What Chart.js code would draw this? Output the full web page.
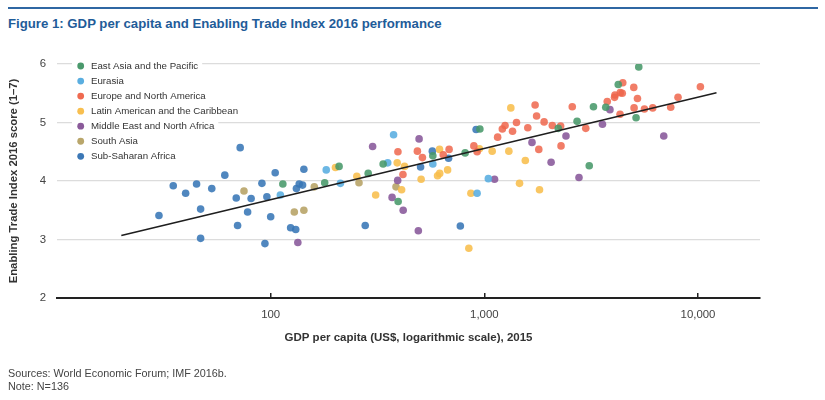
<!DOCTYPE html>
<html>
<head>
<meta charset="utf-8">
<script src="https://cdn.jsdelivr.net/npm/chart.js@4.4.0/dist/chart.umd.min.js"></script>
<style>
html,body{margin:0;padding:0;background:#fff;}
#wrap{position:relative;width:825px;height:400px;overflow:hidden;font-family:"Liberation Sans",Arial,sans-serif;}
#rule{position:absolute;left:8px;top:7px;width:810px;height:2px;background:#2f67a3;}
#title{position:absolute;left:8px;top:16px;font-size:13.2px;line-height:15px;font-weight:bold;color:#1f5c99;white-space:nowrap;}
#src{position:absolute;left:8px;top:367px;font-size:10.8px;line-height:12.7px;color:#444;white-space:nowrap;}
canvas{position:absolute;left:0;top:0;}
</style>
</head>
<body>
<div id="wrap">
  <div id="rule"></div>
  <div id="title">Figure 1: GDP per capita and Enabling Trade Index 2016 performance</div>
  <canvas id="c" width="825" height="400"></canvas>
  <div id="src">Sources: World Economic Forum; IMF 2016b.<br>Note: N=136</div>
</div>
<script>
// ---- Data (GDP per capita US$, ETI 2016 score) ----
const regions = ['East Asia and the Pacific', 'Eurasia', 'Europe and North America',
  'Latin American and the Caribbean', 'Middle East and North Africa', 'South Asia', 'Sub-Saharan Africa'];

const eapX = [114, 179, 209, 286, 336, 395, 574, 813, 953, 2218, 2716, 3097, 3241, 3700, 4233, 5129, 5280];
const eapY = [3.95, 3.97, 4.25, 4.13, 4.29, 3.65, 4.43, 4.48, 4.89, 4.90, 5.02, 4.26, 5.27, 5.26, 5.65, 5.08, 5.95];

const eurX = [111, 182, 212, 353, 376, 574, 925, 1044];
const eurY = [3.76, 4.19, 3.96, 4.31, 4.79, 4.29, 3.79, 4.04];

const enaX = [394, 416, 486, 513, 642, 684, 893, 925, 1154, 1214, 1250, 1355, 1414, 1597, 1728, 1756, 1798, 1904, 2080,
  2275, 2285, 2579, 2983, 3760, 4068, 4085, 4325, 4420, 4444, 4316, 5004, 5207, 5020, 5613, 6138, 7451, 8061, 10258];
const enaY = [4.50, 4.11, 4.51, 4.40, 4.45, 4.54, 4.60, 4.50, 4.75, 4.89, 4.95, 4.85, 5.00, 4.91, 5.30, 5.11, 4.54, 5.01, 4.95,
  4.94, 4.60, 5.27, 4.90, 5.36, 5.43, 5.47, 5.51, 5.50, 5.68, 5.14, 5.60, 5.41, 5.25, 5.23, 5.25, 5.26, 5.43, 5.61];

const latX = [201, 253, 310, 391, 410, 423, 506, 604, 618, 617, 673, 846, 865, 948, 1088, 1302, 1330, 1461, 1555, 1812];
const latY = [4.23, 4.08, 3.76, 4.31, 3.85, 4.25, 4.03, 4.09, 4.13, 4.54, 4.19, 2.85, 3.79, 4.55, 4.51, 4.51, 5.25, 3.96, 4.35, 3.85];

const menaX = [134, 300, 370, 393, 417, 491, 495, 1116, 1671, 2053, 2410, 2773, 3571, 3871, 6912];
const menaY = [2.95, 4.59, 3.72, 4.01, 3.50, 3.15, 4.72, 4.03, 4.66, 4.32, 4.77, 4.06, 4.97, 5.22, 4.77];

const saX = [75, 129, 143, 160, 259, 386];
const saY = [3.83, 3.47, 3.50, 3.90, 3.97, 3.90];

const ssaX = [30, 35, 40, 45, 47, 47, 53, 61, 69, 72, 70, 78, 81, 91, 96, 94, 100, 105, 124, 131, 132, 136, 141, 143, 277, 503, 571, 680, 772, 915];
const ssaY = [3.41, 3.92, 3.79, 3.95, 3.52, 3.02, 3.87, 4.10, 3.71, 4.57, 3.24, 3.47, 3.70, 3.96, 3.73, 2.93, 3.39, 4.14, 3.20, 3.17, 3.87, 3.95, 3.93, 4.20, 3.24, 4.24, 4.51, 4.39, 3.23, 4.88];

const trendX = [20, 12200];
const trendY = [3.07, 5.51];

const xTicks = [100, 1000, 10000];
const xTickLabels = ['100', '1,000', '10,000'];
const yTicks = [2, 3, 4, 5, 6];

// ---- Styling ----
const colors = ['rgba(72,152,106,0.88)', 'rgba(88,173,224,0.88)', 'rgba(239,102,76,0.85)', 'rgba(248,190,76,0.88)',
  'rgba(136,88,154,0.88)', 'rgba(184,164,104,0.9)', 'rgba(56,118,182,0.88)'];
const legendColors = ['#4a996c', '#5aaee0', '#ef6a50', '#f8bf4f', '#8a5a9a', '#b9a66b', '#3c78b6'];
const seriesX = [eapX, eurX, enaX, latX, menaX, saX, ssaX];
const seriesY = [eapY, eurY, enaY, latY, menaY, saY, ssaY];
const FONT = '"Liberation Sans", Arial, sans-serif';

const datasets = regions.map((name, i) => ({
  type: 'scatter',
  label: name,
  data: seriesX[i].map((x, j) => ({x: x, y: seriesY[i][j]})),
  backgroundColor: colors[i],
  borderWidth: 0,
  pointRadius: 3.8,
  pointHoverRadius: 3.8,
  order: 1
}));
datasets.push({
  type: 'line',
  label: 'trend',
  data: trendX.map((x, j) => ({x: x, y: trendY[j]})),
  borderColor: '#1e1e1e',
  borderWidth: 1.6,
  pointRadius: 0,
  fill: false,
  order: 0
});

const legendPlugin = {
  id: 'floatLegend',
  beforeDatasetsDraw(chart) {
    const ctx = chart.ctx;
    const left = chart.chartArea.left;
    ctx.save();
    ctx.font = '9.7px ' + FONT;
    ctx.textBaseline = 'middle';
    regions.forEach((name, i) => {
      const y = 66 + i * 15.05;
      const w = ctx.measureText(name).width;
      ctx.fillStyle = '#ffffff';
      ctx.fillRect(left + 15, y - 7.5, 19 + w + 4, 15);
      ctx.beginPath();
      ctx.arc(left + 23.7, y, 3.4, 0, Math.PI * 2);
      ctx.fillStyle = legendColors[i];
      ctx.fill();
      ctx.fillStyle = '#333';
      ctx.fillText(name, left + 34, y + 0.5);
    });
    ctx.restore();
  }
};

new Chart(document.getElementById('c'), {
  type: 'scatter',
  data: {datasets: datasets},
  plugins: [legendPlugin],
  options: {
    responsive: false,
    animation: false,
    events: [],
    layout: {padding: {left: 0, right: 65, top: 64, bottom: 51}},
    plugins: {legend: {display: false}, tooltip: {enabled: false}, title: {display: false}},
    scales: {
      x: {
        type: 'logarithmic',
        min: 10,
        max: 19500,
        afterBuildTicks: s => { s.ticks = xTicks.map(v => ({value: v})); },
        afterFit: s => { s.height = 51; },
        grid: {drawOnChartArea: false, drawTicks: true, tickLength: -5, color: '#222', lineWidth: 1.5},
        border: {display: true, color: '#222', width: 2},
        ticks: {
          padding: 15, autoSkip: false, maxRotation: 0, color: '#444',
          font: {family: FONT, size: 11.4},
          callback: (v) => xTickLabels[xTicks.indexOf(v)]
        },
        title: {
          display: true, text: 'GDP per capita (US$, logarithmic scale), 2015',
          color: '#333', font: {family: FONT, size: 11.5, weight: 'bold'}, padding: {top: 0, bottom: 4}
        }
      },
      y: {
        min: 2,
        max: 6,
        afterBuildTicks: s => { s.ticks = yTicks.map(v => ({value: v})); },
        afterFit: s => { s.width = 57; },
        grid: {
          drawTicks: false, lineWidth: 1.2,
          color: c => (c.tick && c.tick.value === 2) ? 'rgba(0,0,0,0)' : '#dcdcdc'
        },
        border: {display: false},
        ticks: {padding: 11, color: '#444', font: {family: FONT, size: 11.4}},
        title: {
          display: true, text: 'Enabling Trade Index 2016 score (1–7)',
          color: '#333', font: {family: FONT, size: 11.3, weight: 'bold'}, padding: {top: 7, bottom: 0}
        }
      }
    }
  }
});
</script>
</body>
</html>
